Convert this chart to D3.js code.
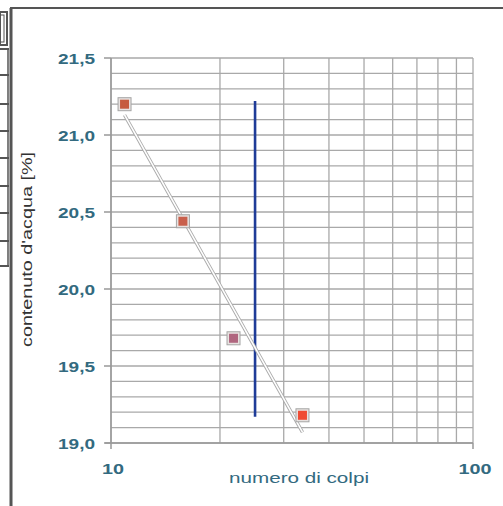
<!DOCTYPE html>
<html><head><meta charset="utf-8">
<script src="https://cdn.jsdelivr.net/npm/d3@7"></script>
<style>html,body{margin:0;padding:0;background:#fff;}svg{display:block;}</style>
</head><body>
<script>
// ---- data ----
const blows = [10.9, 15.8, 21.8, 33.8];          // numero di colpi
const water = [21.2, 20.44, 19.68, 19.18];       // contenuto d'acqua [%]
const trendBlows = [10.9, 33.8];
const trendWater = [21.13, 19.07];
const refBlows = [25, 25];
const refWater = [21.22, 19.17];
const xTickValues = [10, 100];
const xTickLabels = ["10", "100"];
const yTickValues = [19.0, 19.5, 20.0, 20.5, 21.0, 21.5];
const yTickLabels = ["19,0", "19,5", "20,0", "20,5", "21,0", "21,5"];
const xTitle = "numero di colpi";
const yTitle = "contenuto d'acqua [%]";
// ---- styles ----
const pointFill = ["#c65a3e", "#c9604c", "#b0667f", "#ef4b34"];
const textCol = "#336a80";

const W = 503, H = 506;
const svg = d3.select("body").append("svg").attr("width", W).attr("height", H);

const x = d3.scaleLog().domain([10, 100]).range([111, 473]);
const y = d3.scaleLinear().domain([19.0, 21.5]).range([443, 58]);

// page frame (scan edges)
const frame = svg.append("g").attr("stroke", "#555").attr("fill", "none");
frame.append("line").attr("x1", 10).attr("x2", W).attr("y1", 8).attr("y2", 8).attr("stroke-width", 2);
frame.append("line").attr("x1", 11).attr("x2", 11).attr("y1", 8).attr("y2", H).attr("stroke-width", 3);
frame.append("rect").attr("x", 0).attr("y", 12).attr("width", 7).attr("height", 33).attr("stroke-width", 2);
frame.append("rect").attr("x", -2).attr("y", 15).attr("width", 6).attr("height", 27).attr("stroke-width", 1);
[49, 75, 104, 131, 158, 186, 213, 241, 266].forEach(v => {
  frame.append("line").attr("x1", 0).attr("x2", 9).attr("y1", v).attr("y2", v).attr("stroke-width", 2);
});
frame.append("line").attr("x1", 8).attr("x2", 8).attr("y1", 49).attr("y2", 266).attr("stroke-width", 1.5);

// grid
const grid = svg.append("g").attr("stroke", "#a9a9a9").attr("stroke-width", 1.3);
grid.selectAll(".h").data(y.ticks(25)).join("line")
  .attr("x1", x(10)).attr("x2", x(100)).attr("y1", d => y(d)).attr("y2", d => y(d));
grid.selectAll(".v").data(x.ticks()).join("line")
  .attr("x1", d => x(d)).attr("x2", d => x(d)).attr("y1", y(21.5)).attr("y2", y(19.0));

// axes
const ax = svg.append("g").attr("stroke", "#999").attr("stroke-width", 1.5);
ax.append("line").attr("x1", 105).attr("x2", x(100)).attr("y1", y(19)).attr("y2", y(19));
ax.append("line").attr("x1", x(10)).attr("x2", x(10)).attr("y1", y(21.5)).attr("y2", y(19));
ax.selectAll(".yt").data(yTickValues).join("line")
  .attr("x1", 104).attr("x2", x(10)).attr("y1", d => y(d)).attr("y2", d => y(d));
ax.selectAll(".xt").data(xTickValues).join("line")
  .attr("x1", d => x(d)).attr("x2", d => x(d)).attr("y1", y(19)).attr("y2", y(19) + 6);

// tick labels
svg.append("g").selectAll("text").data(yTickValues).join("text")
  .attr("x", 95).attr("y", d => y(d) + 6)
  .attr("text-anchor", "end")
  .attr("font-family", "Liberation Sans, Arial, sans-serif").attr("font-size", 14)
  .attr("font-weight", 600)
  .attr("fill", textCol)
  .attr("textLength", 37).attr("lengthAdjust", "spacingAndGlyphs")
  .text((d, i) => yTickLabels[i]);
svg.append("g").selectAll("text").data(xTickValues).join("text")
  .attr("x", d => x(d) + 2).attr("y", 474)
  .attr("text-anchor", "middle")
  .attr("font-family", "Liberation Sans, Arial, sans-serif").attr("font-size", 14)
  .attr("font-weight", 600)
  .attr("fill", textCol)
  .attr("textLength", (d, i) => xTickLabels[i].length * 11)
  .attr("lengthAdjust", "spacingAndGlyphs")
  .text((d, i) => xTickLabels[i]);

// titles
svg.append("text").attr("x", 229).attr("y", 483)
  .attr("font-family", "Liberation Sans, Arial, sans-serif").attr("font-size", 15)
  .attr("fill", textCol)
  .attr("textLength", 140).attr("lengthAdjust", "spacingAndGlyphs")
  .text(xTitle);
svg.append("text")
  .attr("transform", "translate(32,347) rotate(-90)")
  .attr("font-family", "Liberation Sans, Arial, sans-serif").attr("font-size", 14)
  .attr("fill", "#333")
  .attr("textLength", 195).attr("lengthAdjust", "spacingAndGlyphs")
  .text(yTitle);

// reference vertical line at 25 blows
svg.append("line")
  .attr("x1", x(refBlows[0])).attr("x2", x(refBlows[1]))
  .attr("y1", y(refWater[0])).attr("y2", y(refWater[1]))
  .attr("stroke", "#1f3c98").attr("stroke-width", 2.6);

// trend line (white with grey outline)
const tl = d3.line().x(d => x(d[0])).y(d => y(d[1]));
const tdata = trendBlows.map((b, i) => [b, trendWater[i]]);
svg.append("path").attr("d", tl(tdata)).attr("stroke", "#a8a8a8").attr("stroke-width", 3.4).attr("fill", "none");
svg.append("path").attr("d", tl(tdata)).attr("stroke", "#fff").attr("stroke-width", 1.6).attr("fill", "none");

// points
const pts = svg.append("g").selectAll("g").data(blows).join("g")
  .attr("transform", (d, i) => `translate(${x(d)},${y(water[i])})`);
pts.append("rect").attr("x", -6.5).attr("y", -6.5).attr("width", 13).attr("height", 13)
  .attr("fill", "#e8e2e0").attr("stroke", "#a5a5a5").attr("stroke-width", 1);
pts.append("rect").attr("x", -4.5).attr("y", -4.5).attr("width", 9).attr("height", 9)
  .attr("fill", (d, i) => pointFill[i]);
</script>
</body></html>
